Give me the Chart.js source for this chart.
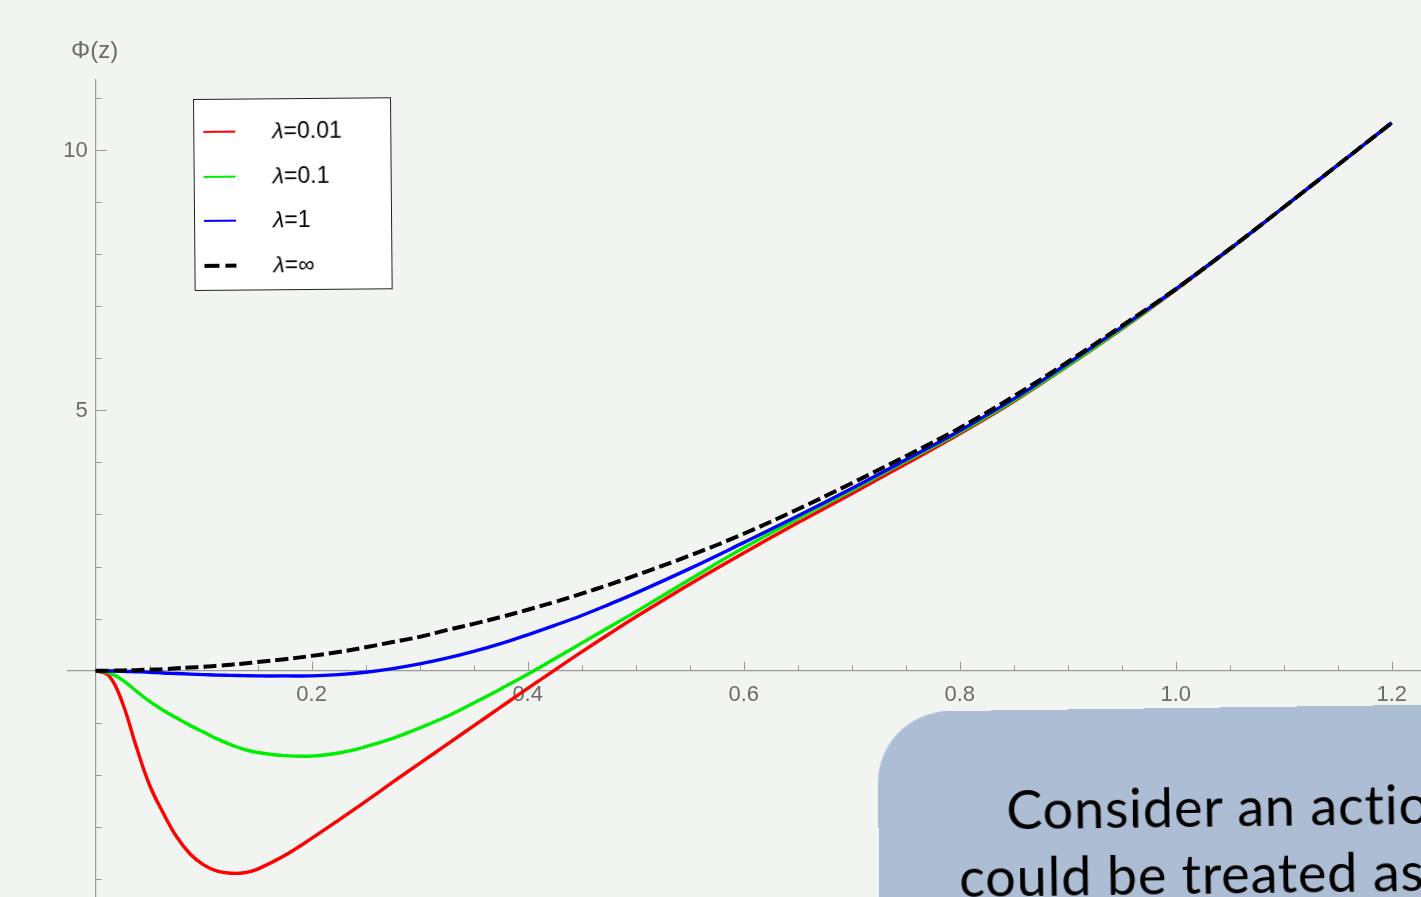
<!DOCTYPE html>
<html>
<head>
<meta charset="utf-8">
<script src="https://cdn.jsdelivr.net/npm/chart.js@4.4.1/dist/chart.umd.min.js"></script>
<style>
  html, body { margin: 0; padding: 0; background: #f2f4f2; overflow: hidden; }
  #wrap { position: relative; width: 1421px; height: 897px; overflow: hidden; }
  #plot { position: absolute; left: 0; top: 0; }
  #ylabel { position: absolute; left: 71px; top: 36px; font: 24px "Liberation Sans", Arial, sans-serif; color: #6b6b6b; }
  #legend { position: absolute; left: 193px; top: 99px; width: 198px; height: 192px; background: #fff;
            border: 1px solid #222; box-sizing: border-box; transform: rotate(-0.5deg); transform-origin: 0 0; }
  .row { position: absolute; left: 9px; height: 24px; font: 23px "Liberation Sans", Arial, sans-serif; color: #000; }
  .row .txt { position: absolute; left: 69px; top: -2px; white-space: nowrap; }
  .sample { position: absolute; left: 0; top: 11px; width: 32px; }
  #note { position: absolute; left: 877px; top: 712px; width: 700px; height: 320px; background: #adbdd3;
          border-radius: 72px; transform: rotate(-0.75deg); transform-origin: 0 0; }
  .line { position: absolute; font: 54px Lato, "Open Sans", sans-serif; color: #000; white-space: nowrap; letter-spacing: 0.8px; }
</style>
</head>
<body>
<div id="wrap">
  <canvas id="plot" width="1421" height="897"></canvas>
  <div id="ylabel">Φ(z)</div>
  <div id="legend"></div>
  <div id="note">
    <div class="line" style="left:128px; top:66px;">Consider an action that</div>
    <div class="line" style="left:80px; top:133px;">could be treated as</div>
  </div>
</div>
<script>
const zVals = [0, 0.0125, 0.025, 0.0375, 0.05, 0.0625, 0.075, 0.0875, 0.1, 0.1125, 0.125, 0.1375, 0.15,
               0.175, 0.2, 0.225, 0.25, 0.275, 0.3, 0.325, 0.35, 0.375, 0.4, 0.425, 0.45, 0.475, 0.5,
               0.55, 0.6, 0.65, 0.7, 0.75, 0.8, 0.85, 0.9, 0.95, 1.0, 1.05, 1.1, 1.15, 1.2];

const phiLam001 = [0, -0.1, -0.63, -1.45, -2.2, -2.73, -3.19, -3.52, -3.73, -3.85, -3.89, -3.88, -3.81,
                   -3.55, -3.22, -2.87, -2.51, -2.14, -1.78, -1.42, -1.06, -0.70, -0.34, 0.01, 0.36, 0.70, 1.03,
                   1.66, 2.26, 2.84, 3.40, 3.97, 4.55, 5.17, 5.85, 6.56, 7.31, 8.09, 8.90, 9.71, 10.52];
const phiLam01  = [0, -0.04, -0.18, -0.39, -0.59, -0.76, -0.91, -1.05, -1.18, -1.31, -1.42, -1.51, -1.57,
                   -1.63, -1.64, -1.58, -1.46, -1.30, -1.10, -0.88, -0.62, -0.35, -0.07, 0.23, 0.53, 0.83, 1.13,
                   1.75, 2.36, 2.92, 3.46, 4.02, 4.58, 5.19, 5.86, 6.57, 7.32, 8.09, 8.90, 9.71, 10.52];
const phiLam1   = [0, -0.005, -0.01, -0.02, -0.03, -0.045, -0.055, -0.065, -0.075, -0.085, -0.09, -0.095, -0.10,
                   -0.10, -0.10, -0.075, -0.03, 0.04, 0.13, 0.24, 0.37, 0.52, 0.69, 0.87, 1.06, 1.27, 1.49,
                   1.96, 2.46, 2.97, 3.50, 4.05, 4.61, 5.22, 5.90, 6.60, 7.33, 8.10, 8.90, 9.71, 10.52];
const phiLamInf = [0, 0, 0.005, 0.01, 0.02, 0.03, 0.045, 0.06, 0.075, 0.095, 0.115, 0.14, 0.165,
                   0.22, 0.285, 0.36, 0.45, 0.55, 0.65, 0.78, 0.90, 1.03, 1.17, 1.32, 1.48, 1.65, 1.83,
                   2.21, 2.63, 3.10, 3.60, 4.12, 4.66, 5.27, 5.93, 6.62, 7.33, 8.10, 8.90, 9.71, 10.52];

const seriesNames = ['λ=0.01', 'λ=0.1', 'λ=1', 'λ=∞'];
const xTickLabels = [0.2, 0.4, 0.6, 0.8, 1.0, 1.2];
const yTickLabels = [5, 10];

function pts(ys) {
  return zVals.map((z, i) => ({x: z, y: ys[i]}));
}

// tick marks drawn inward like the original (x ticks point up, y ticks point right)
// plus the y labels, which chart.js puts right on a value-positioned axis
const tickMarks = {
  id: 'tickMarks',
  beforeDatasetsDraw(chart) {
    const c = chart.ctx, xs = chart.scales.x, ys = chart.scales.y;
    const x0 = xs.getPixelForValue(0), y0 = ys.getPixelForValue(0);
    c.save();
    c.strokeStyle = '#9a9a9a';
    c.lineWidth = 1;
    c.beginPath();
    for (let k = 1; k <= 24; k++) {
      const px = Math.round(xs.getPixelForValue(k * 0.05)) + 0.5;
      const len = k % 4 == 0 ? 9 : 5.5;
      c.moveTo(px, y0); c.lineTo(px, y0 - len);
    }
    for (let k = -4; k <= 11; k++) {
      if (k == 0) continue;
      const py = Math.round(ys.getPixelForValue(k)) + 0.5;
      const len = k % 5 == 0 ? 11 : 6;
      c.moveTo(x0, py); c.lineTo(x0 + len, py);
    }
    c.stroke();
    c.fillStyle = '#6b6b6b';
    c.font = '22px "Liberation Sans", Arial, sans-serif';
    c.textAlign = 'right';
    c.textBaseline = 'middle';
    yTickLabels.forEach(v => c.fillText(String(v), x0 - 8, ys.getPixelForValue(v) + 1));
    c.restore();
  }
};

const ctx = document.getElementById('plot').getContext('2d');
const chart = new Chart(ctx, {
  type: 'line',
  data: {
    datasets: [
      {label: seriesNames[0], data: pts(phiLam001), borderColor: '#ff0000', borderWidth: 3.4, order: 4},
      {label: seriesNames[1], data: pts(phiLam01), borderColor: '#00ee00', borderWidth: 3.4, order: 3},
      {label: seriesNames[2], data: pts(phiLam1), borderColor: '#0000ff', borderWidth: 3.4, order: 2},
      {label: seriesNames[3], data: pts(phiLamInf), borderColor: '#000000', borderWidth: 4, borderDash: [13, 5], order: 1}
    ]
  },
  options: {
    responsive: false,
    animation: false,
    layout: {padding: {left: 68, top: 80, right: 0, bottom: -21}},
    elements: {
      point: {radius: 0},
      line: {tension: 0.4, fill: false, borderCapStyle: 'butt'}
    },
    plugins: {legend: {display: false}, tooltip: {enabled: false}},
    scales: {
      x: {
        type: 'linear',
        min: -0.0256,
        max: 1.2271,
        position: {y: 0},
        grid: {drawOnChartArea: false, drawTicks: false},
        border: {color: '#9a9a9a', width: 1.2},
        afterBuildTicks: s => { s.ticks = xTickLabels.map(v => ({value: v})); },
        ticks: {
          padding: 11,
          color: '#6b6b6b',
          font: {family: '"Liberation Sans", Arial, sans-serif', size: 22},
          maxRotation: 0,
          callback: v => v.toFixed(1)
        }
      },
      y: {
        type: 'linear',
        min: -4.346,
        max: 11.344,
        position: {x: 0},
        grid: {drawOnChartArea: false, drawTicks: false},
        border: {color: '#9a9a9a', width: 1.2},
        afterBuildTicks: s => { s.ticks = yTickLabels.map(v => ({value: v})); },
        ticks: {display: false}
      }
    }
  },
  plugins: [tickMarks]
});

// legend box built from the chart's datasets
const leg = document.getElementById('legend');
chart.data.datasets.forEach((ds, i) => {
  const row = document.createElement('div');
  row.className = 'row';
  row.style.top = (20 + i * 44.7) + 'px';
  let sample;
  if (ds.borderDash) {
    sample = '<div class="sample" style="top:10px;border-top:4px dashed ' + ds.borderColor + ';' +
      'border-image: repeating-linear-gradient(90deg,' + ds.borderColor + ' 0 15px, transparent 15px 20px) 4;"></div>';
  } else {
    sample = '<div class="sample" style="border-top:2px solid ' + ds.borderColor + ';"></div>';
  }
  const txt = ds.label.replace('λ', '<i>λ</i>');
  row.innerHTML = sample + '<span class="txt">' + txt + '</span>';
  leg.appendChild(row);
});
</script>
</body>
</html>
